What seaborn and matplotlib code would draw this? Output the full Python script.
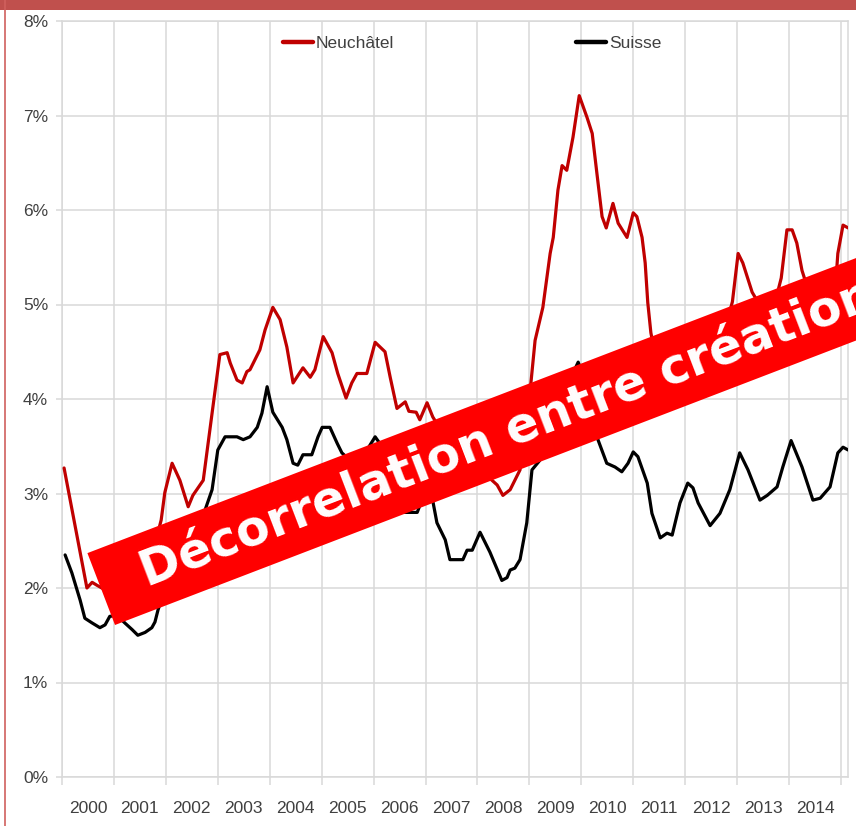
import matplotlib
matplotlib.use("Agg")
import matplotlib.pyplot as plt
import matplotlib.patches as mpatches
import matplotlib.lines as mlines
import numpy as np
import pandas as pd
import seaborn as sns
from matplotlib.ticker import FixedLocator, FuncFormatter

# ---------------- data ----------------
neuchatel_t = [2000.04, 2000.48, 2000.58, 2000.67, 2000.83, 2001.02, 2001.21, 2001.41, 2001.60, 2001.79,
               2001.91, 2001.98, 2002.12, 2002.27, 2002.43, 2002.52, 2002.72, 2002.89, 2003.04, 2003.18,
               2003.24, 2003.37, 2003.47, 2003.56, 2003.62, 2003.81, 2003.91, 2004.06, 2004.20, 2004.33,
               2004.45, 2004.64, 2004.78, 2004.87, 2005.03, 2005.20, 2005.31, 2005.47, 2005.58, 2005.68,
               2005.87, 2006.03, 2006.22, 2006.32, 2006.45, 2006.61, 2006.68, 2006.82, 2006.89, 2007.03,
               2007.14, 2007.32, 2007.51, 2007.70, 2007.90, 2008.09, 2008.24, 2008.38, 2008.49, 2008.63,
               2008.82, 2009.01, 2009.11, 2009.26, 2009.40, 2009.46, 2009.55, 2009.63, 2009.72, 2009.84,
               2009.96, 2010.11, 2010.21, 2010.30, 2010.40, 2010.48, 2010.61, 2010.71, 2010.88, 2011.00,
               2011.07, 2011.17, 2011.23, 2011.28, 2011.34, 2011.46, 2011.63, 2011.90, 2012.19, 2012.48,
               2012.71, 2012.91, 2013.02, 2013.11, 2013.29, 2013.44, 2013.63, 2013.79, 2013.85, 2013.96,
               2014.06, 2014.15, 2014.25, 2014.40, 2014.60, 2014.75, 2014.89, 2014.94, 2015.04, 2015.14]
neuchatel_v = [3.27, 2.00, 2.06, 2.03, 1.98, 1.90, 1.90, 1.98, 2.14, 2.46,
               2.72, 3.01, 3.32, 3.14, 2.86, 2.98, 3.14, 3.85, 4.47, 4.49,
               4.38, 4.20, 4.17, 4.29, 4.31, 4.52, 4.73, 4.97, 4.84, 4.55,
               4.17, 4.33, 4.23, 4.31, 4.66, 4.49, 4.27, 4.01, 4.17, 4.27,
               4.27, 4.60, 4.50, 4.23, 3.90, 3.97, 3.87, 3.86, 3.78, 3.96,
               3.81, 3.65, 3.50, 3.41, 3.32, 3.25, 3.16, 3.09, 2.98, 3.04,
               3.25, 4.06, 4.62, 4.97, 5.54, 5.71, 6.21, 6.47, 6.42, 6.77,
               7.21, 6.98, 6.81, 6.39, 5.93, 5.81, 6.07, 5.86, 5.71, 5.97,
               5.93, 5.71, 5.44, 5.02, 4.70, 4.36, 4.15, 4.04, 4.12, 4.31,
               4.62, 5.03, 5.54, 5.44, 5.13, 4.99, 4.94, 5.15, 5.28, 5.79,
               5.79, 5.65, 5.36, 5.10, 4.92, 4.86, 5.15, 5.54, 5.84, 5.81]

suisse_t = [2000.06, 2000.19, 2000.35, 2000.44, 2000.58, 2000.73, 2000.83, 2000.92, 2001.06, 2001.21,
            2001.35, 2001.46, 2001.60, 2001.73, 2001.79, 2001.85, 2001.98, 2002.18, 2002.37, 2002.56,
            2002.72, 2002.89, 2003.00, 2003.14, 2003.37, 2003.49, 2003.62, 2003.76, 2003.85, 2003.95,
            2004.06, 2004.24, 2004.33, 2004.45, 2004.54, 2004.64, 2004.81, 2004.93, 2005.01, 2005.16,
            2005.30, 2005.39, 2005.55, 2005.70, 2005.85, 2006.03, 2006.12, 2006.24, 2006.35, 2006.45,
            2006.84, 2006.91, 2007.05, 2007.12, 2007.22, 2007.38, 2007.47, 2007.72, 2007.80, 2007.90,
            2008.05, 2008.24, 2008.47, 2008.57, 2008.63, 2008.72, 2008.82, 2008.95, 2009.05, 2009.20,
            2009.36, 2009.51, 2009.69, 2009.82, 2009.94, 2010.07, 2010.21, 2010.30, 2010.49, 2010.65,
            2010.78, 2010.90, 2011.00, 2011.09, 2011.27, 2011.36, 2011.52, 2011.65, 2011.75, 2011.90,
            2012.05, 2012.15, 2012.25, 2012.48, 2012.67, 2012.86, 2013.05, 2013.21, 2013.44, 2013.58,
            2013.77, 2013.88, 2014.04, 2014.25, 2014.46, 2014.60, 2014.79, 2014.94, 2015.04, 2015.14]
suisse_v = [2.35, 2.16, 1.87, 1.68, 1.63, 1.58, 1.61, 1.70, 1.71, 1.63,
            1.56, 1.50, 1.53, 1.58, 1.64, 1.77, 1.98, 2.19, 2.35, 2.51,
            2.77, 3.04, 3.46, 3.60, 3.60, 3.57, 3.60, 3.70, 3.85, 4.13,
            3.86, 3.70, 3.57, 3.32, 3.30, 3.41, 3.41, 3.60, 3.70, 3.70,
            3.53, 3.43, 3.35, 3.33, 3.44, 3.60, 3.53, 3.30, 2.98, 2.80,
            2.80, 2.90, 2.96, 2.98, 2.69, 2.51, 2.30, 2.30, 2.40, 2.40,
            2.59, 2.38, 2.08, 2.11, 2.19, 2.21, 2.30, 2.69, 3.25, 3.35,
            3.57, 3.78, 4.04, 4.25, 4.39, 4.20, 3.88, 3.60, 3.32, 3.28,
            3.23, 3.32, 3.44, 3.39, 3.11, 2.79, 2.53, 2.58, 2.56, 2.90,
            3.11, 3.06, 2.90, 2.66, 2.79, 3.04, 3.43, 3.25, 2.93, 2.98,
            3.07, 3.28, 3.56, 3.28, 2.93, 2.95, 3.07, 3.43, 3.49, 3.46]

years = list(range(2000, 2015))
year_labels = [str(y) for y in years]
y_ticks = [0, 1, 2, 3, 4, 5, 6, 7, 8]
series_names = ["Neuchâtel", "Suisse"]
banner_text = "Décorrelation entre création"

# ---------------- styling ----------------
W, H = 856, 826
sns.set_theme(style="white")
plt.rcParams["font.family"] = ["Liberation Sans", "DejaVu Sans"]
grid_c = "#D9D9D9"
txt_c = "#404040"
red_c = "#C00000"
fs = 12.5

fig = plt.figure(figsize=(W / 100, H / 100), dpi=100)
fig.patch.set_facecolor("white")
ax = fig.add_axes([62 / W, 49 / H, (848 - 62) / W, (777 - 21) / H])

df_n = pd.DataFrame({"t": neuchatel_t, "v": neuchatel_v})
df_s = pd.DataFrame({"t": suisse_t, "v": suisse_v})
sns.lineplot(data=df_n, x="t", y="v", ax=ax, color=red_c, lw=2.3, label=series_names[0], zorder=3)
sns.lineplot(data=df_s, x="t", y="v", ax=ax, color="black", lw=2.3, label=series_names[1], zorder=3)

ax.set_xlim(2000, 2000 + (848 - 62) / 51.93)
ax.set_ylim(0, 8)
ax.set_xlabel("")
ax.set_ylabel("")

ax.xaxis.set_major_locator(FixedLocator(years + [2015]))
ax.xaxis.set_minor_locator(FixedLocator([y + 0.5 for y in years]))
ax.xaxis.set_major_formatter(FuncFormatter(lambda v, p: ""))
ax.xaxis.set_minor_formatter(FuncFormatter(lambda v, p: year_labels[int(v) - 2000]))
ax.tick_params(axis="x", which="major", length=6, width=1.1, color=grid_c, bottom=True)
ax.tick_params(axis="x", which="minor", length=0, pad=17, labelsize=fs, labelcolor=txt_c)
ax.set_yticks(y_ticks)
ax.yaxis.set_major_formatter(FuncFormatter(lambda v, p: f"{int(v)}%"))
ax.tick_params(axis="y", length=4, width=1.1, color=grid_c, left=True, pad=6,
               labelsize=fs, labelcolor=txt_c)

ax.grid(True, which="major", color=grid_c, lw=1.1)
for s in ax.spines.values():
    s.set_color(grid_c)
    s.set_linewidth(1.1)

fpx = fs * 100 / 72
leg = ax.legend(loc="center left", bbox_to_anchor=(283 / W, 1 - 43 / H),
                bbox_transform=fig.transFigure, ncol=2, frameon=False,
                borderpad=0, borderaxespad=0, handlelength=30 / fpx, handletextpad=3 / fpx,
                columnspacing=182 / fpx, fontsize=fs)
for t in leg.get_texts():
    t.set_color(txt_c)
for h in leg.legend_handles:
    h.set_linewidth(3.2)

# ---------------- slide decorations ----------------
fig.add_artist(mpatches.Rectangle((0, 1 - 10 / H), 1, 10 / H, transform=fig.transFigure,
                                  facecolor="#C0504D", edgecolor="none", zorder=5))
fig.add_artist(mlines.Line2D([4.5 / W, 4.5 / W], [0, 1], transform=fig.transFigure,
                             color="#D0605D", lw=1.2, zorder=5))

# banner
ang = 21.0
px = matplotlib.transforms.Affine2D().scale(1 / W, 1 / H) + fig.transFigure
x0, y0 = 115, H - 625
banner = mpatches.Rectangle((x0, y0), 1100, 77, angle=ang, transform=px,
                            facecolor="#FF0000", edgecolor="none", zorder=6)
fig.add_artist(banner)
th = np.deg2rad(ang)
cx = x0 - np.sin(th) * 38.5 + np.cos(th) * 44
cy = y0 + np.cos(th) * 38.5 + np.sin(th) * 44
fig.text(cx / W, cy / H, banner_text, rotation=ang, rotation_mode="anchor",
         ha="left", va="center", color="white", fontsize=35, fontweight="bold",
         family="DejaVu Sans", zorder=7)

fig.savefig("out.png", dpi=100)
